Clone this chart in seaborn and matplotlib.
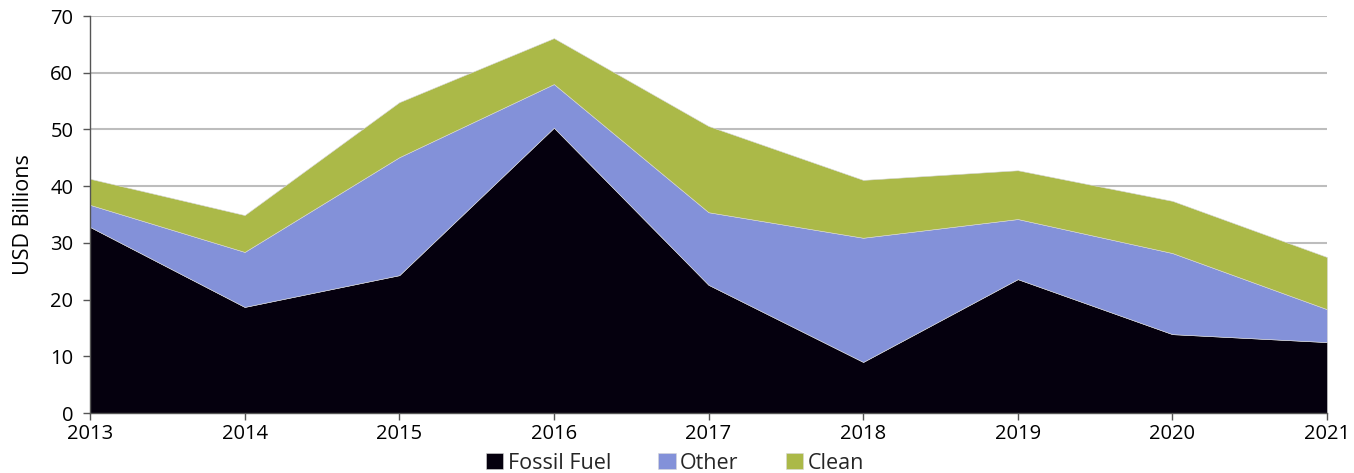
import pandas as pd
import matplotlib.pyplot as plt
import seaborn as sns

# datos (USD miles de millones)
anios = [2013, 2014, 2015, 2016, 2017, 2018, 2019, 2020, 2021]
fosil = [32.8, 18.7, 24.3, 50.3, 22.6, 9.0, 23.6, 13.9, 12.5]
otro = [3.9, 9.7, 20.8, 7.7, 12.8, 21.9, 10.6, 14.3, 5.8]
limpio = [4.6, 6.5, 9.7, 8.1, 15.2, 10.2, 8.6, 9.2, 9.2]
series = ["Fossil Fuel", "Other", "Clean"]
colores = ["#05000e", "#8391d9", "#abb948"]

df = pd.DataFrame({"Year": anios, "Fossil Fuel": fosil, "Other": otro, "Clean": limpio})

sns.set_theme(style="white")
plt.rcParams["font.family"] = ["Open Sans", "DejaVu Sans"]

fig = plt.figure(figsize=(13.54, 4.73), dpi=100)
ax = fig.add_axes([90 / 1354, 1 - 413 / 473, (1327 - 90) / 1354, (413 - 16) / 473])

ax.stackplot(df["Year"], [df[s] for s in series], colors=colores, labels=series,
             edgecolor="#d8d8d8", linewidth=0.4, zorder=2)

ax.set_xlim(2013, 2021)
ax.set_ylim(0, 70)
ax.set_xticks(anios)
ax.set_yticks(range(0, 71, 10))
ax.yaxis.grid(True, color="#bdbdbd", linewidth=1.5, zorder=0)
ax.set_axisbelow(True)
sns.despine(ax=ax, top=True, right=True)
for lado in ["left", "bottom"]:
    ax.spines[lado].set_color("#555555")
    ax.spines[lado].set_linewidth(1)
ax.tick_params(axis="x", labelsize=14.5, colors="#000000", length=5, width=1,
               direction="out", bottom=True, pad=3)
ax.tick_params(axis="y", labelsize=14.5, colors="#000000", length=5, width=1,
               direction="out", left=True, pad=7)
ax.tick_params(axis="both", color="#555555")
ax.set_ylabel("USD Billions", fontsize=15.5, color="#000000", labelpad=12)

handles, labels = ax.get_legend_handles_labels()
fig.legend(handles, labels, loc="center", bbox_to_anchor=(675 / 1354, 1 - 463 / 473),
           ncol=3, frameon=False, fontsize=15.5, handlelength=0.8, handleheight=0.8,
           handletextpad=0.2, columnspacing=2.2, borderpad=0)

fig.savefig("out.png", dpi=100)
